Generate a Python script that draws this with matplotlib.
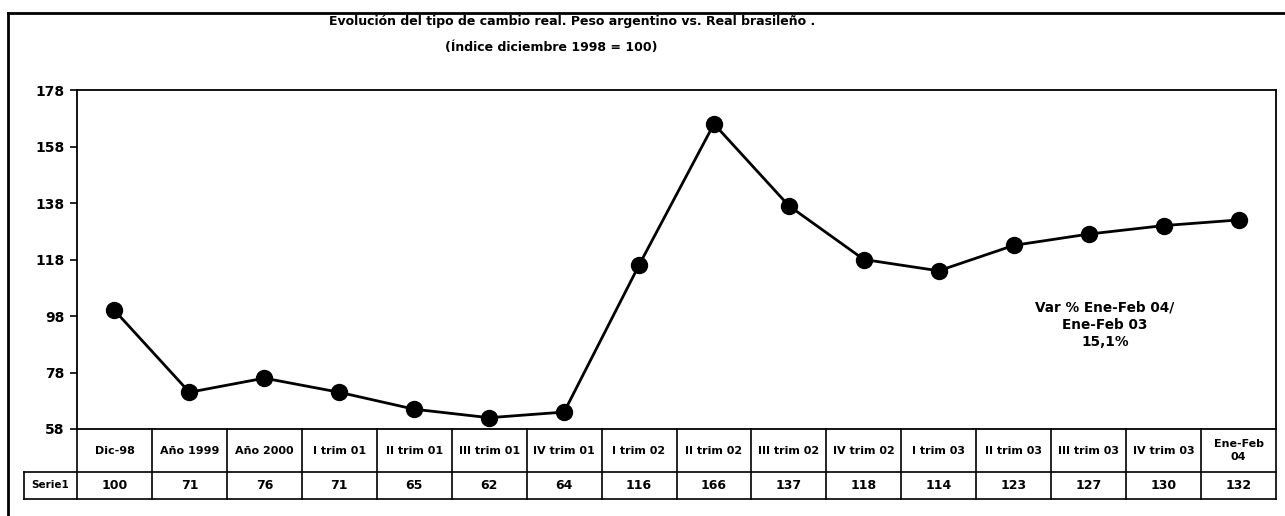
import numpy as np
import matplotlib
matplotlib.use('Agg')
import matplotlib.pyplot as plt
import matplotlib.transforms as mtransforms
from matplotlib.lines import Line2D

#-------------------------------------------------------------------------------
#Data
#-------------------------------------------------------------------------------
categories=['Dic-98','Año 1999','Año 2000','I trim 01','II trim 01',
            'III trim 01','IV trim 01','I trim 02','II trim 02','III trim 02',
            'IV trim 02','I trim 03','II trim 03','III trim 03','IV trim 03',
            'Ene-Feb\n04']
serie1=[100,71,76,71,65,62,64,116,166,137,118,114,123,127,130,132]
y_ticks=[58,78,98,118,138,158,178]
series_name='Serie1'
title_1='Evolución del tipo de cambio real. Peso argentino vs. Real brasileño .'
title_2='(Índice diciembre 1998 = 100)'
note='Var % Ene-Feb 04/\nEne-Feb 03\n15,1%'

#-------------------------------------------------------------------------------
#Figure
#-------------------------------------------------------------------------------
plt.rcParams['font.family']='DejaVu Sans'
plt.rcParams['font.weight']='bold'

W,H=1285,516
ax_l,ax_r,ax_t,ax_b=77,1276,90,429
fig=plt.figure(figsize=(W/100,H/100),dpi=100)
ax=fig.add_axes([ax_l/W,1-ax_b/H,(ax_r-ax_l)/W,(ax_b-ax_t)/H])

x=np.arange(len(serie1))
ax.plot(x,serie1,color='black',linewidth=2,marker='o',markersize=11.5,
        markerfacecolor='black',markeredgecolor='black',zorder=3)

ax.set_xlim(-0.5,len(serie1)-0.5)
ax.set_ylim(y_ticks[0],y_ticks[-1])
ax.set_yticks(y_ticks)
ax.set_yticklabels([str(v) for v in y_ticks],fontsize=10,fontweight='bold')
ax.set_xticks([])
ax.tick_params(axis='y',length=5,width=1.2,direction='out',pad=4)
for s in ax.spines.values():
     s.set_linewidth(1.3)

#-------------------------------------------------------------------------------
#Data table below the plot (x in data units, y in axes units)
#-------------------------------------------------------------------------------
trans=mtransforms.blended_transform_factory(ax.transData,ax.transAxes)
ZS_hdr=-(472-ax_b)/(ax_b-ax_t)
ZS_bot=-(499-ax_b)/(ax_b-ax_t)
ZS_lab=-0.5-53/((ax_r-ax_l)/len(serie1))
IS_n=len(serie1)

kw=dict(transform=trans,color='black',linewidth=1.2,clip_on=False)
ax.add_line(Line2D([ZS_lab,IS_n-0.5],[ZS_hdr,ZS_hdr],**kw))
ax.add_line(Line2D([ZS_lab,IS_n-0.5],[ZS_bot,ZS_bot],**kw))
ax.add_line(Line2D([ZS_lab,ZS_lab],[ZS_hdr,ZS_bot],**kw))
for JS in range(IS_n+1):
     ax.add_line(Line2D([JS-0.5,JS-0.5],[0,ZS_bot],**kw))

for JS in range(IS_n):
     ax.text(JS,ZS_hdr/2,categories[JS],transform=trans,ha='center',
             va='center',fontsize=8,fontweight='bold',linespacing=1.3)
     ax.text(JS,(ZS_hdr+ZS_bot)/2,str(serie1[JS]),transform=trans,
             ha='center',va='center',fontsize=9,fontweight='bold')
ax.text((ZS_lab-0.5)/2,(ZS_hdr+ZS_bot)/2,series_name,transform=trans,
        ha='center',va='center',fontsize=7.5,fontweight='bold')

#-------------------------------------------------------------------------------
#Texts and outer frame
#-------------------------------------------------------------------------------
fig.text(572/W,1-21/H,title_1,ha='center',va='center',fontsize=9,
         fontweight='bold')
fig.text(551/W,1-48/H,title_2,ha='center',va='center',fontsize=9,
         fontweight='bold')
fig.text(1105/W,1-325/H,note,ha='center',va='center',fontsize=9.8,
         fontweight='bold',linespacing=1.3)

fig.add_artist(Line2D([8/W,1],[1-13/H,1-13/H],transform=fig.transFigure,
                      color='black',linewidth=2))
fig.add_artist(Line2D([8/W,8/W],[0,1-13/H],transform=fig.transFigure,
                      color='black',linewidth=2))

fig.savefig('out.png',dpi=100)
